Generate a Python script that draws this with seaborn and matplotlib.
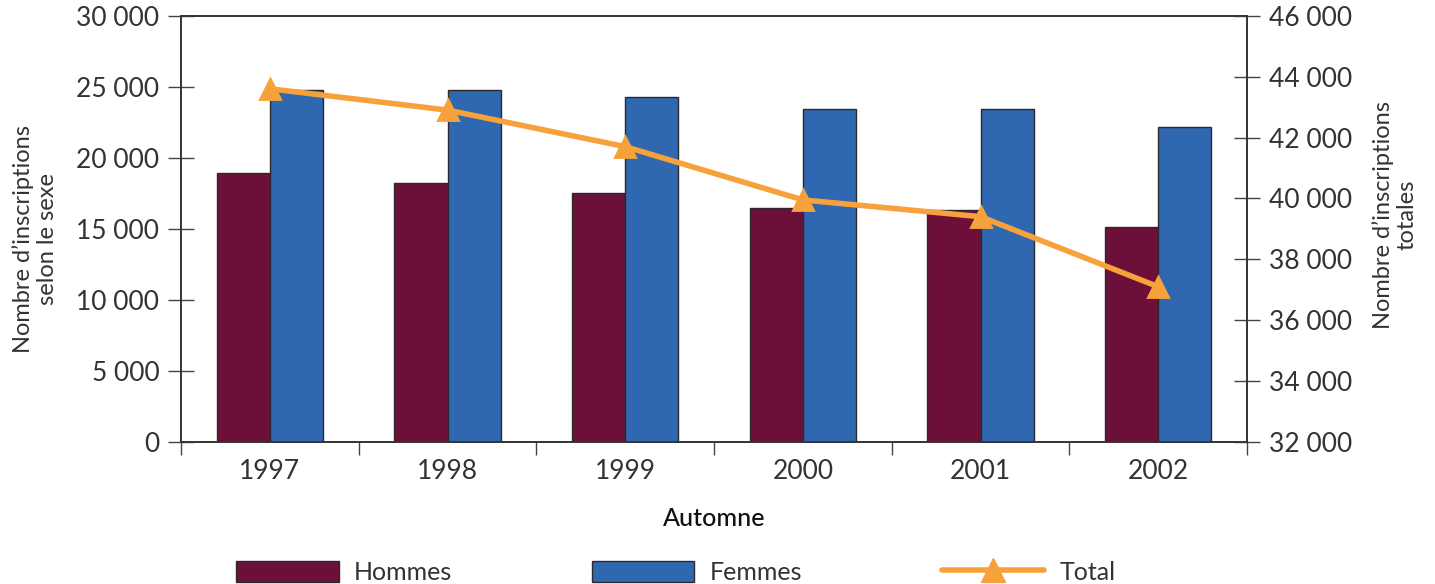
import numpy as np
import pandas as pd
import matplotlib
matplotlib.use("Agg")
import matplotlib.pyplot as plt
from matplotlib.ticker import FuncFormatter, MultipleLocator, FixedLocator
from matplotlib.patches import Patch
from matplotlib.lines import Line2D
import seaborn as sns

# ---- data ----
years = ["1997", "1998", "1999", "2000", "2001", "2002"]
hommes = [18900, 18200, 17500, 16500, 16300, 15100]
femmes = [24800, 24800, 24300, 23400, 23400, 22200]
total = [43600, 42900, 41700, 39950, 39400, 37100]
series_names = ["Hommes", "Femmes", "Total"]
colors = {"Hommes": "#6D1039", "Femmes": "#2F68B1", "Total": "#F7A13A"}

left_label = "Nombre d’inscriptions\nselon le sexe"
right_label = "Nombre d’inscriptions\ntotales"
x_label = "Automne"

sns.set_theme(style="white")
plt.rcParams["font.family"] = ["Lato", "DejaVu Sans"]
text_color = "#333333"

df = pd.DataFrame({
    "Année": years * 2,
    "Inscriptions": hommes + femmes,
    "Sexe": ["Hommes"] * len(years) + ["Femmes"] * len(years),
})
df_tot = pd.DataFrame({"Année": years, "Total": total})

fig = plt.figure(figsize=(14.35, 5.84), dpi=100)
ax = fig.add_axes([181 / 1435, 1 - 442 / 584, (1247 - 181) / 1435, (442 - 15.7) / 584])

sns.barplot(data=df, x="Année", y="Inscriptions", hue="Sexe",
            palette=colors, width=0.6, edgecolor="#2a2a2a", linewidth=1.0,
            saturation=1, ax=ax, legend=False)

ax2 = ax.twinx()
sns.pointplot(data=df_tot, x="Année", y="Total", color=colors["Total"],
              markers="^", linestyles="-", ax=ax2, errorbar=None)
for ln in ax2.lines:
    ln.set_linewidth(4)
    ln.set_markersize(15)
for coll in ax2.collections:
    coll.set_sizes([300])

n = len(years)
ax.set_xlim(-0.5, n - 0.5)
ax2.set_xlim(-0.5, n - 0.5)
ax.set_ylim(0, 30000)
ax2.set_ylim(32000, 46000)

fmt = FuncFormatter(lambda v, p: f"{v:,.0f}".replace(",", " "))
ax.yaxis.set_major_locator(MultipleLocator(5000))
ax.yaxis.set_major_formatter(fmt)
ax2.yaxis.set_major_locator(MultipleLocator(2000))
ax2.yaxis.set_major_formatter(fmt)

# x ticks: labels at centres, marks at boundaries
ax.xaxis.set_minor_locator(FixedLocator(np.arange(-0.5, n, 1.0)))
ax.tick_params(axis="x", which="major", length=0, pad=12, labelsize=19, labelcolor=text_color)
ax.tick_params(axis="x", which="minor", length=9.5, width=1, color="#444444", direction="out", bottom=True)
ax.tick_params(axis="y", which="major", direction="inout", length=19, width=1,
               color="#444444", labelsize=19, labelcolor=text_color, left=True, pad=6)
ax2.tick_params(axis="y", which="major", direction="inout", length=19, width=1,
                color="#444444", labelsize=19, labelcolor=text_color, right=True, pad=6)

for a in (ax, ax2):
    for s in a.spines.values():
        s.set_visible(True)
        s.set_color("#333333")
        s.set_linewidth(1.2)

ax.set_xlabel(x_label, fontsize=18, color="#111111", labelpad=17, fontweight="medium")
ax.set_ylabel(left_label, fontsize=17, color=text_color, multialignment="center")
ax.yaxis.set_label_coords(-0.1154, 0.476)
ax2.set_ylabel(right_label, fontsize=17, color=text_color, rotation=90, multialignment="center")
ax2.yaxis.set_label_coords(1.117, 0.532)

handles = [
    Patch(facecolor=colors["Hommes"], edgecolor="#2a2a2a", linewidth=1.0),
    Patch(facecolor=colors["Femmes"], edgecolor="#2a2a2a", linewidth=1.0),
    Line2D([], [], color=colors["Total"], linewidth=4, marker="^", markersize=17),
]
fig.legend(handles, series_names, loc="center", bbox_to_anchor=(0.471, 0.02),
           ncol=3, frameon=False, fontsize=18, handlelength=4.1, handleheight=0.9,
           handletextpad=0.6, columnspacing=5.6, labelcolor=text_color)

fig.savefig("out.png", dpi=100)
